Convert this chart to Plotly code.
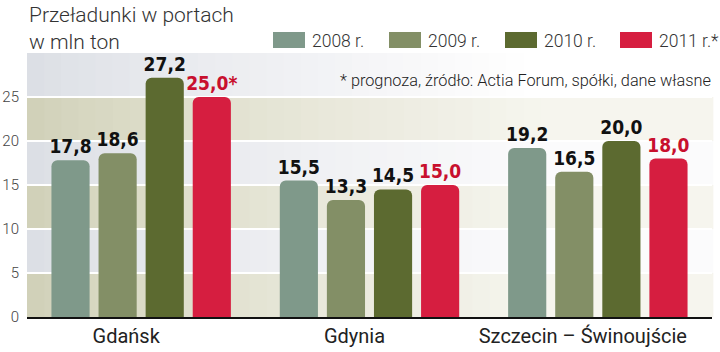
import plotly.graph_objects as go

categories = ["Gdańsk", "Gdynia", "Szczecin – Świnoujście"]
years = ["2008 r.", "2009 r.", "2010 r.", "2011 r.*"]
v2008 = [17.8, 15.5, 19.2]
v2009 = [18.6, 13.3, 16.5]
v2010 = [27.2, 14.5, 20.0]
v2011 = [25.0, 15.0, 18.0]
labels2011 = ["25,0*", "15,0", "18,0"]
series = [v2008, v2009, v2010, v2011]
colors = ["#7f998a", "#838f66", "#5c6a30", "#d61e40"]
label_colors = ["#111111", "#111111", "#111111", "#c8102e"]
yticks = [0, 5, 10, 15, 20, 25]

def fmt(v):
    return f"{v:.1f}".replace(".", ",")

fig = go.Figure()
for i, (name, vals) in enumerate(zip(years, series)):
    texts = labels2011 if i == 3 else [fmt(v) for v in vals]
    fig.add_trace(go.Bar(
        x=categories, y=vals, name=name, text=texts,
        textposition="outside", texttemplate="%{text}", constraintext="none",
        textfont=dict(family="DejaVu Sans Condensed, Liberation Sans Narrow, sans-serif",
                      size=19, color=label_colors[i], weight="bold"),
        marker=dict(color=colors[i], line=dict(width=0), cornerradius=6),
        cliponaxis=False, showlegend=False, hoverinfo="skip",
    ))

# background bands with horizontal fade
def lerp(c1, c2, t):
    return "rgb(%d,%d,%d)" % tuple(round(a + (b - a) * t) for a, b in zip(c1, c2))

beige_l, beige_r = (208, 208, 183), (246, 245, 238)
light_l, light_r = (219, 222, 228), (251, 251, 252)
top_r = (255, 255, 255)
shapes = []
N = 40
for b in range(6):
    y0, y1 = b * 5, b * 5 + 5
    for k in range(N):
        x0, x1 = k / N, (k + 1) / N
        t = min(1.0, ((k + 0.5) / N) / 0.75) ** 0.8
        if b % 2 == 0:
            c = lerp(beige_l, beige_r, t)
        else:
            c = lerp(light_l, top_r if b == 5 else light_r, t)
        shapes.append(dict(type="rect", xref="paper", yref="y", x0=x0, x1=x1 + 0.002,
                           y0=y0, y1=y1, fillcolor=c, line=dict(width=0), layer="below"))

# manual legend
W, H = 720, 352
L, R, T, B = 27, 8, 53, 35
pw, ph = W - L - R, H - T - B
def px(x):
    return (x - L) / pw
def py(y):
    return (H - B - y) / ph

legend_x = [273, 389, 505, 620]
annotations = []
for i, lx in enumerate(legend_x):
    shapes.append(dict(type="rect", xref="paper", yref="paper",
                       x0=px(lx), x1=px(lx + 32), y0=py(48), y1=py(32),
                       fillcolor=colors[i], line=dict(width=0)))
    annotations.append(dict(xref="paper", yref="paper", x=px(lx + 37), y=py(41),
                            text=years[i], showarrow=False, xanchor="left", yanchor="middle",
                            font=dict(family="Roboto", size=17.5, color="#333333", weight=300)))

annotations.append(dict(xref="paper", yref="paper", x=px(27), y=py(1),
                        text="Przeładunki w portach<br>w mln ton", showarrow=False,
                        xanchor="left", yanchor="top", align="left",
                        font=dict(family="Roboto", size=21, color="#333333", weight=300)))
annotations.append(dict(xref="paper", yref="paper", x=px(713), y=py(80),
                        text="* prognoza, źródło: Actia Forum, spółki, dane własne",
                        showarrow=False, xanchor="right", yanchor="middle",
                        font=dict(family="Roboto", size=16.3, color="#222222", weight=300)))

fig.update_layout(
    width=W, height=H,
    margin=dict(l=L, r=R, t=T, b=B, pad=0, autoexpand=False),
    paper_bgcolor="white", plot_bgcolor="white",
    barmode="group", bargap=0.175, bargroupgap=0.19,
    shapes=shapes, annotations=annotations,
    font=dict(family="Roboto"),
)
fig.update_xaxes(type="category", showgrid=False, showline=True, linecolor="#111111",
                 linewidth=2, ticks="", ticklabelshift=-15, ticklabelstandoff=0,
                 automargin=False,
                 tickfont=dict(family="Roboto", size=20, color="#222222"))
fig.update_yaxes(range=[0, 30], tickvals=yticks, showgrid=True, gridcolor="white",
                 gridwidth=2, zeroline=False, showline=False, ticks="",
                 ticklabelstandoff=7, automargin=False,
                 tickfont=dict(family="Roboto", size=15, color="#444444", weight=300))

fig.write_html("out.html")
